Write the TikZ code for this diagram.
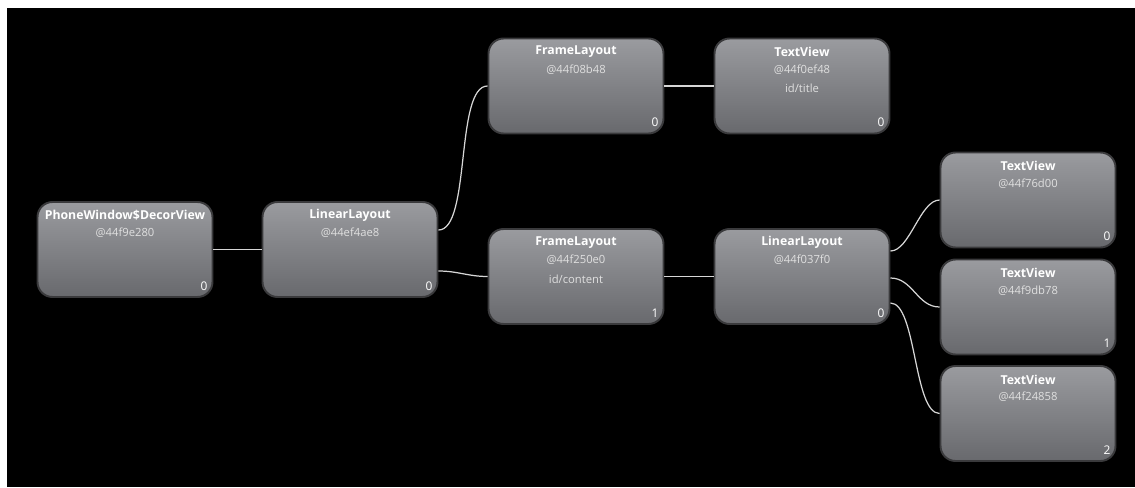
\documentclass[tikz,border=0pt]{standalone}
\usepackage{fontspec}
\setmainfont{Open Sans}
\usetikzlibrary{arrows}

\definecolor{boxtop}{HTML}{9A9B9F}
\definecolor{boxbot}{HTML}{68696D}
\definecolor{boxrim}{HTML}{3A3A3C}
\definecolor{wire}{HTML}{D6D6D6}
\definecolor{addr}{HTML}{E0E0E0}

\begin{document}
\begin{tikzpicture}
  [x=0.02cm,y=-0.02cm,every node/.style={inner sep=0pt}]

  \tikzstyle{view} = [rectangle,rounded corners=0.3cm,minimum width=3.5cm,
                      minimum height=1.9cm,top color=boxtop,bottom color=boxbot,
                      draw=boxrim,line width=1.1pt]
  \tikzstyle{ttl}  = [anchor=center,yshift=-0.29cm,text=white,
                      font=\fontsize{7}{8}\selectfont\bfseries]
  \tikzstyle{adr}  = [anchor=center,yshift=-0.64cm,text=addr,
                      font=\fontsize{6.4}{7}\selectfont]
  \tikzstyle{vid}  = [anchor=center,yshift=-1.02cm,text=addr,
                      font=\fontsize{6.4}{7}\selectfont]
  \tikzstyle{idx}  = [anchor=center,xshift=-0.19cm,yshift=0.24cm,text=white,
                      font=\fontsize{6.8}{7}\selectfont]
  \tikzstyle{wire} = [draw=wire,line width=0.7pt]

  % backdrop
  \fill[white] (0,0) rectangle (1135,487);
  \fill[black] (7,8) rectangle (1135,487);

  \node[view,label={[ttl]north:PhoneWindow\$DecorView},label={[adr]north:@44f9e280},
        label={[idx]south east:0}]                      (dv)  at (125,249.5)  {};
  \node[view,label={[ttl]north:LinearLayout},label={[adr]north:@44ef4ae8},
        label={[idx]south east:0}]                      (ll1) at (350,249.5)  {};
  \node[view,label={[ttl]north:FrameLayout},label={[adr]north:@44f08b48},
        label={[idx]south east:0}]                      (fl1) at (576,86)     {};
  \node[view,label={[ttl]north:TextView},label={[adr]north:@44f0ef48},
        label={[vid]north:id/title},label={[idx]south east:0}]   (tv1) at (802,86)     {};
  \node[view,label={[ttl]north:FrameLayout},label={[adr]north:@44f250e0},
        label={[vid]north:id/content},label={[idx]south east:1}] (fl2) at (576,276.5)  {};
  \node[view,label={[ttl]north:LinearLayout},label={[adr]north:@44f037f0},
        label={[idx]south east:0}]                      (ll2) at (802,276.5)  {};
  \node[view,label={[ttl]north:TextView},label={[adr]north:@44f76d00},
        label={[idx]south east:0}]                      (tv2) at (1028,200)   {};
  \node[view,label={[ttl]north:TextView},label={[adr]north:@44f9db78},
        label={[idx]south east:1}]                      (tv3) at (1028,307)   {};
  \node[view,label={[ttl]north:TextView},label={[adr]north:@44f24858},
        label={[idx]south east:2}]                      (tv4) at (1028,413.5) {};

  \path[wire]
        (dv)                      edge                              (ll1)
        ([yshift=0.39cm]ll1.east)  edge [out=0,in=180,looseness=0.55] (fl1.west)
        ([yshift=-0.43cm]ll1.east) edge [out=0,in=180]              (fl2.west)
        (fl1)                     edge                              (tv1)
        (fl2)                     edge                              (ll2)
        ([yshift=0.51cm]ll2.east)  edge [out=0,in=180,looseness=0.7]  (tv2.west)
        ([yshift=-0.03cm]ll2.east) edge [out=0,in=180]              (tv3.west)
        ([yshift=-0.53cm]ll2.east) edge [out=0,in=180,looseness=0.55] (tv4.west);
\end{tikzpicture}
\end{document}
